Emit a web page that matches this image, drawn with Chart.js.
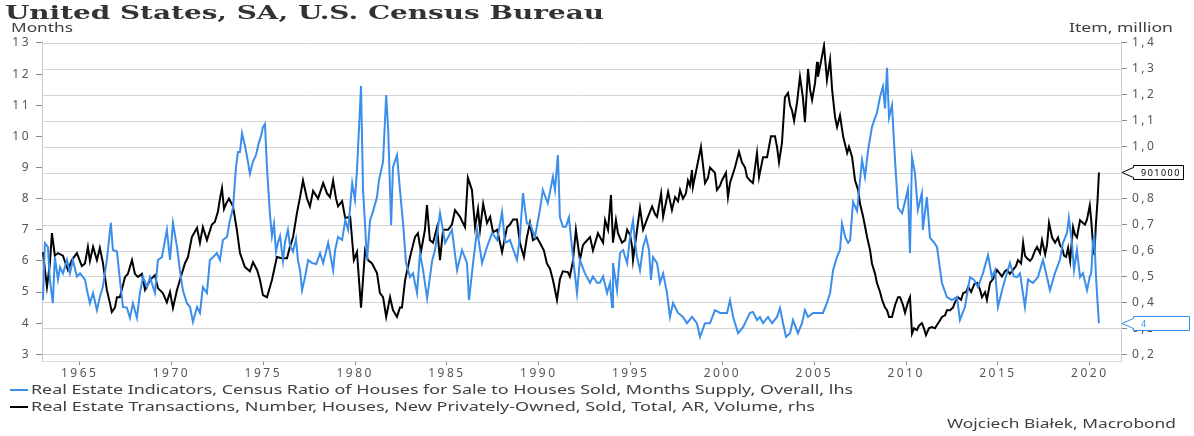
<!DOCTYPE html>
<html>
<head>
<meta charset="utf-8">
<script src="https://cdn.jsdelivr.net/npm/chart.js@4"></script>
<style>
  html,body{margin:0;padding:0;background:#fff;}
  #wrap{position:relative;width:1194px;height:436px;overflow:hidden;}
  canvas{position:absolute;left:0;top:0;}
  .t{position:absolute;white-space:nowrap;display:inline-block;transform-origin:0 50%;color:#404040;font-family:"Noto Sans",sans-serif;}
  #title{font-family:"DejaVu Serif",serif;font-weight:bold;font-size:19px;color:#333;left:5px;top:1px;line-height:22px;}
  .unit{font-size:12px;line-height:14px;top:21px;}
  .leg{font-size:12px;line-height:14px;}
  .mark{position:absolute;left:10px;width:18px;height:2px;}
</style>
</head>
<body>
<div id="wrap">
  <canvas id="c" width="1194" height="436"></canvas>
  <span class="t" id="title" data-w="599">United States, SA, U.S. Census Bureau</span>
  <span class="t unit" id="uL" style="left:11px" data-w="62">Months</span>
  <span class="t unit" id="uR" style="left:1069px" data-w="104">Item, million</span>
  <div class="mark" style="top:389px;background:#3b8eea"></div>
  <span class="t leg" style="left:31px;top:383px" data-w="822">Real Estate Indicators, Census Ratio of Houses for Sale to Houses Sold, Months Supply, Overall, lhs</span>
  <div class="mark" style="top:406px;background:#000"></div>
  <span class="t leg" style="left:31px;top:400px" data-w="784">Real Estate Transactions, Number, Houses, New Privately-Owned, Sold, Total, AR, Volume, rhs</span>
  <span class="t leg" style="left:947px;top:417px" data-w="229">Wojciech Białek, Macrobond</span>
</div>
<script>
// ---- Data (decimal year dates, values) ----
const blueDates = [1963.00,1963.11,1963.27,1963.38,1963.54,1963.65,1963.82,1963.93,1964.09,1964.31,1964.47,1964.63,1964.85,1965.02,1965.29,1965.40,1965.56,1965.73,1965.94,1966.10,1966.26,1966.48,1966.70,1966.81,1967.03,1967.19,1967.36,1967.57,1967.74,1967.90,1968.12,1968.28,1968.45,1968.67,1968.83,1969.10,1969.26,1969.48,1969.75,1969.92,1970.08,1970.30,1970.46,1970.62,1970.84,1971.01,1971.17,1971.39,1971.55,1971.71,1971.93,1972.09,1972.26,1972.47,1972.64,1972.80,1973.02,1973.18,1973.35,1973.51,1973.62,1973.73,1973.84,1974.00,1974.16,1974.27,1974.44,1974.60,1974.76,1974.87,1974.98,1975.09,1975.20,1975.36,1975.47,1975.58,1975.69,1975.80,1975.91,1976.07,1976.18,1976.34,1976.45,1976.62,1976.78,1976.89,1977.00,1977.11,1977.27,1977.44,1977.66,1977.88,1978.09,1978.26,1978.53,1978.80,1978.91,1979.07,1979.29,1979.46,1979.62,1979.84,1979.99,1980.10,1980.32,1980.43,1980.65,1980.81,1980.98,1981.19,1981.30,1981.52,1981.69,1981.80,1981.96,1982.06,1982.28,1982.44,1982.61,1982.77,1982.99,1983.15,1983.37,1983.53,1983.70,1983.92,1984.19,1984.35,1984.62,1984.90,1985.27,1985.55,1985.82,1986.09,1986.20,1986.42,1986.64,1986.91,1987.18,1987.46,1987.73,1988.00,1988.16,1988.43,1988.81,1988.97,1989.14,1989.35,1989.52,1989.79,1990.06,1990.22,1990.49,1990.77,1990.88,1991.04,1991.15,1991.31,1991.48,1991.64,1991.86,1992.08,1992.24,1992.51,1992.79,1992.95,1993.17,1993.33,1993.50,1993.72,1993.88,1993.99,1994.04,1994.26,1994.42,1994.59,1994.81,1994.97,1995.13,1995.24,1995.35,1995.51,1995.68,1995.84,1996.00,1996.11,1996.22,1996.44,1996.60,1996.77,1996.98,1997.14,1997.31,1997.58,1997.85,1998.07,1998.34,1998.61,1998.78,1999.05,1999.32,1999.59,1999.87,2000.25,2000.41,2000.58,2000.85,2001.12,2001.50,2001.66,2001.88,2002.04,2002.21,2002.48,2002.70,2002.97,2003.13,2003.30,2003.46,2003.68,2003.84,2004.11,2004.33,2004.49,2004.66,2004.93,2005.20,2005.47,2005.69,2005.86,2006.02,2006.24,2006.40,2006.51,2006.68,2006.84,2006.95,2007.11,2007.33,2007.49,2007.60,2007.76,2007.93,2008.14,2008.31,2008.41,2008.58,2008.74,2008.85,2008.96,2009.07,2009.23,2009.40,2009.56,2009.78,2009.94,2010.10,2010.21,2010.32,2010.48,2010.64,2010.86,2010.91,2011.13,2011.30,2011.51,2011.68,2011.95,2012.22,2012.49,2012.77,2012.93,2013.20,2013.48,2013.69,2013.91,2014.18,2014.46,2014.67,2014.84,2015.00,2015.27,2015.65,2015.87,2016.04,2016.20,2016.47,2016.64,2016.91,2017.18,2017.45,2017.67,2017.83,2018.10,2018.37,2018.54,2018.76,2018.86,2019.03,2019.14,2019.30,2019.47,2019.63,2019.85,2020.00,2020.08,2020.17,2020.25,2020.33,2020.42,2020.50];
const blueValues = [4.74,6.57,6.45,5.4,4.64,6.12,5.4,5.8,5.6,6.03,5.6,6.03,5.5,5.6,5.4,5.06,4.64,4.97,4.42,4.84,5.16,6.03,7.22,6.35,6.3,5.4,4.52,4.5,4.17,4.64,4.17,4.97,5.48,5.16,5.48,4.97,6.03,6.12,7.0,6.03,7.22,6.45,5.7,5.06,4.64,4.52,4.04,4.52,4.33,5.16,4.97,6.03,6.12,6.25,6.03,6.67,6.77,7.3,7.7,9.0,9.5,9.5,10.1,9.7,9.2,8.8,9.2,9.4,9.8,10.0,10.3,10.4,9.0,7.5,6.8,7.2,6.3,6.6,6.8,6.0,6.6,7.0,6.5,6.3,6.7,6.0,5.7,5.06,5.48,6.03,5.93,5.9,6.25,5.93,6.58,5.7,6.35,6.77,6.67,7.3,7.0,8.5,7.96,8.92,11.62,8.28,6.03,7.3,7.6,8.05,8.6,9.19,11.33,10.2,7.15,9.0,9.4,8.28,7.2,5.93,5.48,5.6,4.97,6.25,5.7,4.8,6.0,6.35,7.54,6.58,7.0,5.7,6.35,5.93,4.74,5.93,7.0,5.93,6.45,6.9,6.67,7.57,6.58,6.67,6.03,6.77,8.18,7.2,7.2,6.77,7.64,8.28,7.86,8.7,8.28,9.4,7.4,7.1,7.1,7.4,6.12,4.97,6.03,5.6,5.3,5.5,5.3,5.3,5.5,4.97,5.3,4.52,5.93,5.06,6.25,6.35,5.93,6.77,7.3,6.58,6.12,5.7,6.45,6.77,6.35,5.39,6.12,5.93,5.3,5.6,4.97,4.2,4.65,4.33,4.2,4.0,4.2,4.0,3.56,4.0,4.0,4.42,4.33,4.33,4.74,4.2,3.68,3.87,4.33,4.36,4.1,4.2,4.0,4.2,4.0,4.2,4.49,4.0,3.56,3.68,4.1,3.68,4.0,4.42,4.2,4.33,4.33,4.33,4.65,4.97,5.7,6.13,6.35,7.2,6.77,6.58,6.67,7.9,7.6,8.6,9.24,8.7,9.56,10.3,10.6,10.75,11.27,11.6,10.9,12.2,10.6,11.0,9.2,7.7,7.53,7.9,8.3,6.25,9.33,8.82,7.64,8.18,7.0,8.05,6.74,6.6,6.45,5.29,4.84,4.74,4.84,4.1,4.52,5.48,5.4,5.16,5.6,6.19,5.48,5.7,4.52,5.16,5.93,5.5,5.48,5.6,4.52,5.4,5.29,5.48,6.03,5.48,5.06,5.6,6.03,6.58,6.9,7.38,6.58,5.7,6.35,5.48,5.6,5.06,5.5,5.6,6.6,6.8,5.6,4.7,4.0];

const blackDates = [1963.00,1963.22,1963.38,1963.49,1963.65,1963.82,1964.09,1964.36,1964.58,1964.85,1965.12,1965.29,1965.45,1965.56,1965.73,1965.94,1966.10,1966.26,1966.48,1966.64,1966.75,1966.92,1967.03,1967.19,1967.47,1967.63,1967.85,1968.01,1968.17,1968.39,1968.56,1968.83,1969.10,1969.26,1969.53,1969.75,1969.92,1970.08,1970.30,1970.46,1970.73,1970.90,1971.11,1971.39,1971.55,1971.71,1971.93,1972.20,1972.36,1972.53,1972.64,1972.75,1972.86,1972.97,1973.13,1973.35,1973.56,1973.73,1974.00,1974.27,1974.44,1974.66,1974.82,1974.98,1975.20,1975.47,1975.74,1976.01,1976.29,1976.45,1976.62,1976.83,1977.00,1977.16,1977.38,1977.54,1977.71,1977.98,1978.26,1978.47,1978.63,1978.80,1978.96,1979.07,1979.29,1979.46,1979.73,1979.93,1980.10,1980.32,1980.54,1980.70,1980.92,1981.19,1981.35,1981.52,1981.69,1981.90,1982.06,1982.28,1982.44,1982.55,1982.72,1982.99,1983.26,1983.42,1983.58,1983.80,1983.91,1984.07,1984.24,1984.46,1984.62,1984.79,1985.06,1985.27,1985.44,1985.71,1985.98,1986.14,1986.36,1986.53,1986.69,1986.80,1986.97,1987.18,1987.35,1987.51,1987.73,1988.00,1988.27,1988.43,1988.60,1988.81,1988.97,1989.19,1989.35,1989.52,1989.68,1989.90,1990.06,1990.28,1990.44,1990.61,1990.77,1990.99,1991.15,1991.31,1991.58,1991.69,1991.86,1992.02,1992.24,1992.40,1992.51,1992.79,1992.95,1993.22,1993.33,1993.50,1993.61,1993.77,1993.93,1994.04,1994.20,1994.31,1994.53,1994.70,1994.81,1994.97,1995.08,1995.13,1995.35,1995.51,1995.68,1995.89,1996.17,1996.33,1996.44,1996.66,1996.77,1997.04,1997.25,1997.42,1997.58,1997.69,1997.85,1998.01,1998.12,1998.23,1998.34,1998.39,1998.61,1998.83,1998.94,1999.05,1999.21,1999.32,1999.59,1999.70,1999.87,1999.97,2000.19,2000.30,2000.41,2000.68,2000.90,2001.06,2001.23,2001.34,2001.50,2001.66,2001.88,2001.99,2002.21,2002.43,2002.64,2002.86,2002.97,2003.08,2003.24,2003.40,2003.57,2003.68,2003.79,2003.90,2004.06,2004.22,2004.38,2004.49,2004.66,2004.77,2004.88,2005.04,2005.15,2005.20,2005.37,2005.53,2005.69,2005.86,2005.97,2006.13,2006.24,2006.40,2006.57,2006.79,2006.89,2007.06,2007.22,2007.39,2007.49,2007.66,2007.88,2008.04,2008.14,2008.31,2008.41,2008.58,2008.69,2008.85,2008.96,2009.07,2009.23,2009.40,2009.56,2009.67,2009.83,2009.94,2010.10,2010.21,2010.32,2010.43,2010.59,2010.70,2010.86,2010.97,2011.08,2011.24,2011.40,2011.57,2011.68,2011.84,2011.95,2012.12,2012.22,2012.39,2012.55,2012.66,2012.82,2012.99,2013.11,2013.27,2013.38,2013.54,2013.71,2013.87,2014.02,2014.13,2014.30,2014.40,2014.57,2014.73,2014.95,2015.11,2015.22,2015.38,2015.49,2015.65,2015.82,2015.98,2016.09,2016.26,2016.37,2016.47,2016.58,2016.75,2016.86,2017.02,2017.13,2017.29,2017.40,2017.57,2017.67,2017.78,2017.95,2018.11,2018.27,2018.38,2018.49,2018.60,2018.71,2018.82,2018.93,2019.09,2019.20,2019.30,2019.47,2019.63,2019.74,2019.85,2020.00,2020.08,2020.17,2020.25,2020.33,2020.42,2020.50];
const blackValues = [0.594,0.46,0.55,0.667,0.58,0.59,0.58,0.525,0.563,0.59,0.54,0.55,0.614,0.56,0.614,0.563,0.61,0.555,0.448,0.40,0.363,0.38,0.42,0.42,0.498,0.51,0.563,0.51,0.498,0.51,0.448,0.486,0.505,0.455,0.436,0.40,0.44,0.378,0.448,0.486,0.55,0.575,0.652,0.687,0.63,0.69,0.64,0.70,0.71,0.75,0.80,0.84,0.76,0.78,0.80,0.77,0.68,0.59,0.536,0.52,0.555,0.525,0.486,0.428,0.42,0.486,0.575,0.57,0.57,0.614,0.652,0.744,0.806,0.87,0.80,0.77,0.83,0.80,0.86,0.82,0.806,0.87,0.80,0.77,0.79,0.725,0.73,0.563,0.594,0.38,0.60,0.563,0.55,0.513,0.436,0.42,0.344,0.42,0.37,0.344,0.38,0.38,0.486,0.575,0.652,0.667,0.594,0.68,0.775,0.64,0.63,0.69,0.563,0.68,0.68,0.70,0.756,0.73,0.69,0.88,0.833,0.69,0.76,0.68,0.78,0.706,0.73,0.67,0.68,0.594,0.69,0.70,0.72,0.72,0.63,0.575,0.65,0.706,0.64,0.65,0.63,0.60,0.55,0.53,0.486,0.41,0.49,0.52,0.517,0.50,0.56,0.68,0.563,0.62,0.63,0.652,0.60,0.667,0.652,0.63,0.717,0.68,0.814,0.63,0.717,0.667,0.63,0.64,0.68,0.66,0.614,0.563,0.68,0.764,0.68,0.72,0.77,0.74,0.73,0.82,0.73,0.826,0.756,0.806,0.79,0.833,0.80,0.82,0.87,0.85,0.91,0.845,0.922,0.999,0.93,0.86,0.88,0.92,0.90,0.833,0.85,0.87,0.90,0.806,0.86,0.92,0.98,0.94,0.92,0.883,0.87,0.86,0.976,0.883,0.96,0.96,1.04,1.04,1.0,0.94,1.015,1.19,1.207,1.16,1.14,1.10,1.17,1.27,1.19,1.095,1.30,1.22,1.18,1.245,1.327,1.27,1.33,1.39,1.257,1.335,1.22,1.115,1.076,1.12,1.04,0.976,1.0,0.96,0.87,0.833,0.78,0.73,0.65,0.6,0.55,0.51,0.475,0.44,0.41,0.38,0.37,0.344,0.344,0.39,0.42,0.42,0.39,0.36,0.40,0.42,0.28,0.30,0.293,0.31,0.32,0.30,0.274,0.30,0.305,0.30,0.313,0.33,0.344,0.35,0.37,0.37,0.38,0.40,0.42,0.41,0.436,0.44,0.46,0.44,0.47,0.475,0.45,0.42,0.44,0.41,0.475,0.49,0.525,0.51,0.50,0.52,0.525,0.51,0.525,0.54,0.563,0.55,0.63,0.58,0.57,0.56,0.57,0.60,0.614,0.59,0.64,0.585,0.62,0.706,0.65,0.63,0.65,0.62,0.61,0.58,0.575,0.61,0.56,0.69,0.66,0.65,0.717,0.706,0.70,0.72,0.774,0.716,0.627,0.582,0.697,0.791,0.901];

const xTickYears = [1965,1970,1975,1980,1985,1990,1995,2000,2005,2010,2015,2020];
const leftTicks = [3,4,5,6,7,8,9,10,11,12,13];
const rightTicks = [0.2,0.3,0.4,0.5,0.6,0.7,0.8,0.9,1.0,1.1,1.2,1.3,1.4];
const lastLabels = ["901000","4"];

// ---- Text stretching to match the reference widths ----
document.querySelectorAll('[data-w]').forEach(el=>{
  const w = el.getBoundingClientRect().width;
  const target = +el.dataset.w;
  el.style.transform = 'scaleX(' + (target / w) + ')';
});

const BLUE = '#3b8eea';
const tickFont = {family:'Noto Sans', size:12};
const tickColor = '#555';

const spacingPlugin = {
  id:'spacing',
  beforeDraw(chart){ chart.ctx.letterSpacing = '2.5px'; }
};

// horizontal grid lines taken from the right-hand scale
const gridPlugin = {
  id:'gridR',
  beforeDatasetsDraw(chart){
    const ctx = chart.ctx, s = chart.scales.y1, a = chart.chartArea;
    ctx.save();
    ctx.strokeStyle = '#d4d4d4';
    ctx.lineWidth = 1;
    ctx.beginPath();
    rightTicks.forEach(v=>{
      const y = Math.round(s.getPixelForValue(v)) + 0.5;
      ctx.moveTo(a.left, y); ctx.lineTo(a.right, y);
    });
    ctx.stroke();
    ctx.restore();
  }
};

function drawTag(ctx, xAxisEdge, y, text, color){
  const bx = 1133, bw = text.length > 1 ? 50 : 56, bh = 14;
  ctx.save();
  ctx.letterSpacing = '1.5px';
  ctx.fillStyle = '#fff';
  ctx.strokeStyle = color;
  ctx.lineWidth = 1;
  ctx.beginPath();
  ctx.moveTo(xAxisEdge + 1, y + 0.5);
  ctx.lineTo(bx + 0.5, y - 4.5);
  ctx.lineTo(bx + 0.5, y - bh/2 + 0.5);
  ctx.lineTo(bx + bw + 0.5, y - bh/2 + 0.5);
  ctx.lineTo(bx + bw + 0.5, y + bh/2 + 0.5);
  ctx.lineTo(bx + 0.5, y + bh/2 + 0.5);
  ctx.lineTo(bx + 0.5, y + 5.5);
  ctx.closePath();
  ctx.fill();
  ctx.stroke();
  ctx.fillStyle = color;
  ctx.font = '9px "Noto Sans"';
  ctx.textBaseline = 'middle';
  ctx.textAlign = 'left';
  ctx.fillText(text, bx + 8, y + 1);
  ctx.restore();
}

const tagPlugin = {
  id:'tags',
  afterDraw(chart){
    const ctx = chart.ctx;
    const yL = chart.scales.y, yR = chart.scales.y1;
    const edge = chart.chartArea.right;
    drawTag(ctx, edge, Math.round(yR.getPixelForValue(blackValues[blackValues.length-1])), lastLabels[0], '#000');
    drawTag(ctx, edge, Math.round(yL.getPixelForValue(blueValues[blueValues.length-1])), lastLabels[1], BLUE);
  }
};

new Chart(document.getElementById('c'), {
  type:'line',
  data:{
    datasets:[
      {label:'Real Estate Indicators, Census Ratio of Houses for Sale to Houses Sold, Months Supply, Overall, lhs',
       data: blueDates.map((d,i)=>({x:d, y:blueValues[i]})),
       yAxisID:'y', borderColor:BLUE, borderWidth:2, pointRadius:0, tension:0, fill:false},
      {label:'Real Estate Transactions, Number, Houses, New Privately-Owned, Sold, Total, AR, Volume, rhs',
       data: blackDates.map((d,i)=>({x:d, y:blackValues[i]})),
       yAxisID:'y1', borderColor:'#000', borderWidth:2, pointRadius:0, tension:0, fill:false}
    ]
  },
  options:{
    responsive:false,
    animation:false,
    layout:{padding:{left:0,right:0,top:41,bottom:50}},
    plugins:{legend:{display:false}, tooltip:{enabled:false}, title:{display:false}},
    scales:{
      x:{
        type:'linear', min:1962.95, max:2021.70,
        afterFit(s){ s.height = 25; },
        afterBuildTicks(s){ s.ticks = xTickYears.map(v=>({value:v})); },
        grid:{drawOnChartArea:false, drawTicks:true, tickLength:4, color:'#888'},
        border:{display:true, color:'#ddd'},
        ticks:{font:tickFont, color:tickColor, padding:1, maxRotation:0, autoSkip:false, callback:v=>String(v)}
      },
      y:{
        position:'left', min:2.785, max:13.064,
        afterFit(s){ s.width = 42; },
        afterBuildTicks(s){ s.ticks = leftTicks.map(v=>({value:v})); },
        grid:{drawOnChartArea:false, drawTicks:true, tickLength:6, color:'#888'},
        border:{display:true, color:'#ccc'},
        ticks:{font:tickFont, color:tickColor, padding:5, callback:v=>String(v)}
      },
      y1:{
        position:'right', min:0.174, max:1.4077,
        afterFit(s){ s.width = 73; },
        afterBuildTicks(s){ s.ticks = rightTicks.map(v=>({value:v})); },
        grid:{drawOnChartArea:false, drawTicks:true, tickLength:6, color:'#888'},
        border:{display:true, color:'#ccc'},
        ticks:{font:tickFont, color:tickColor, padding:5, callback:v=>v.toFixed(1).replace('.',',')}
      }
    }
  },
  plugins:[spacingPlugin, gridPlugin, tagPlugin]
});
</script>
</body>
</html>
